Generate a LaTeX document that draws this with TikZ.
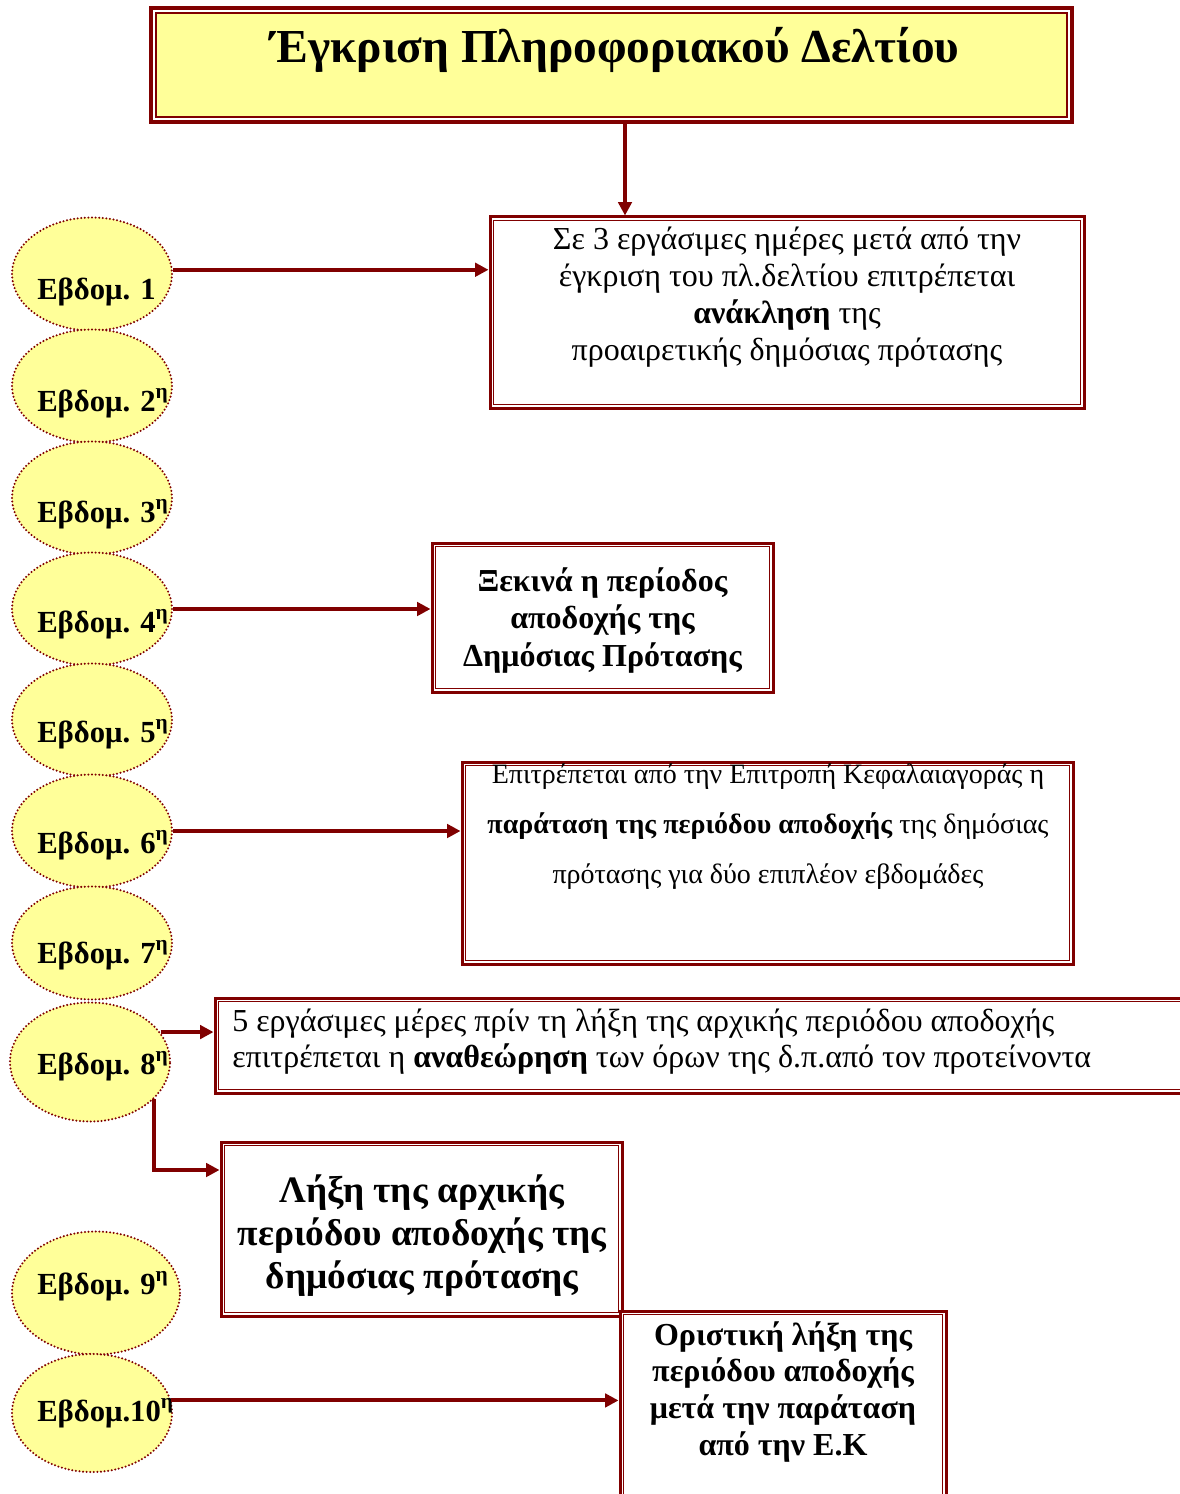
\documentclass[tikz,border=0pt]{standalone}
\usepackage{fontspec}
\setmainfont{Liberation Serif}
\usetikzlibrary{arrows.meta,shapes.geometric,calc}
\definecolor{dred}{RGB}{128,0,0}
\definecolor{ylw}{RGB}{255,255,153}
\tikzset{
  wk/.style={ellipse, draw=dred, fill=ylw, line width=1.7pt, dash pattern=on 0pt off 2.7pt, line cap=round, inner sep=0, minimum width=120pt, minimum height=84.75pt},
  wklab/.style={anchor=base west, inner sep=0, font=\fontsize{23}{28}\selectfont\bfseries},
  box/.style={draw=dred, line width=2.25pt, fill=white, inner sep=0},
  innerline/.style={draw=dred, line width=0.75pt},
  arr/.style={draw=dred, line width=3pt, -{Triangle[length=10pt,width=10pt]}},
  txt/.style={inner sep=0, align=center, anchor=base},
}
\begin{document}
\begin{tikzpicture}[x=0.75pt,y=-0.75pt]
\useasboundingbox (0,0) rectangle (1180,1494);
\clip (0,0) rectangle (1180,1494);
\fill[white] (0,0) rectangle (1180,1494);

% title
\node[box, line width=3pt, minimum width=690.75pt, minimum height=85.5pt] (title) at (611.5,65) {};
\draw[dred, line width=1.5pt, fill=ylw] ([shift={(7,7)}]title.north west) rectangle ([shift={(-7,-7)}]title.south east);
\node[inner sep=0, anchor=base, font=\fontsize{35.5}{42}\selectfont\bfseries] (ttl) at (615,63) {Έγκριση Πληροφοριακού Δελτίου};

% boxes
\node[box, minimum width=445.5pt, minimum height=143.25pt] (b1) at (787,312.5) {};
\node[box, minimum width=255.75pt, minimum height=111.75pt] (b2) at (602.5,617.5) {};
\node[box, minimum width=458.25pt, minimum height=151.5pt] (b3) at (767.5,863) {};
\node[box, minimum width=738.75pt, minimum height=71.25pt] (b4) at (707.5,1045.5) {};
\node[box, minimum width=300.75pt, minimum height=130.5pt] (b5) at (421.5,1229) {};
\node[box, minimum width=244.5pt, minimum height=149.25pt] (b6) at (783,1410.5) {};
\foreach \n in {b1,b2,b3,b4,b5,b6}
  \draw[innerline] ([shift={(5,5)}]\n.north west) rectangle ([shift={(-5,-5)}]\n.south east);

% box texts (anchor base = baseline of last line)
\node[txt, font=\fontsize{24}{27.75}\selectfont] (t1) at (787,360) {Σε 3 εργάσιμες ημέρες μετά από την\\έγκριση του πλ.δελτίου επιτρέπεται\\\textbf{ανάκληση} της\\προαιρετικής δημόσιας πρότασης};
\node[txt, font=\fontsize{24}{28.1}\selectfont\bfseries] (t2) at (602.5,666) {Ξεκινά η περίοδος\\αποδοχής της\\Δημόσιας Πρότασης};
\node[txt, font=\fontsize{21}{37.5}\selectfont] (t3) at (768,883) {Επιτρέπεται από την Επιτροπή Κεφαλαιαγοράς η\\\textbf{παράταση της περιόδου αποδοχής} της δημόσιας\\πρότασης για δύο επιπλέον εβδομάδες};
\node[txt, align=left, anchor=base west, font=\fontsize{24}{27}\selectfont] (t4) at (232,1067) {5 εργάσιμες μέρες πρίν τη λήξη της αρχικής περιόδου αποδοχής\\επιτρέπεται η \textbf{αναθεώρηση} των όρων της δ.π.από τον προτείνοντα};
\node[txt, font=\fontsize{28}{32.25}\selectfont\bfseries] (t5) at (422,1288) {Λήξη της αρχικής\\περιόδου αποδοχής της\\δημόσιας πρότασης};
\node[txt, font=\fontsize{24}{27.4}\selectfont\bfseries] (t6) at (783,1455) {Οριστική λήξη της\\περιόδου αποδοχής\\μετά την παράταση\\από την Ε.Κ};

% week ellipses
\node[wk] (e1) at (92,274) {};
\node[wk] (e2) at (92,386) {};
\node[wk] (e3) at (92,498) {};
\node[wk] (e4) at (92,609) {};
\node[wk] (e5) at (92,720) {};
\node[wk] (e6) at (92,831) {};
\node[wk] (e7) at (92,943) {};
\node[wk, minimum height=89.25pt] (e8) at (90,1062) {};
\node[wk, minimum width=126pt, minimum height=92.25pt] (e9) at (96,1293) {};
\node[wk, minimum height=88.5pt] (e10) at (92,1413) {};

\node[wklab] (l1) at (37,300) {Εβδομ. 1};
\node[wklab] (l2) at (37,411) {Εβδομ. 2\textsuperscript{η}};
\node[wklab] (l3) at (37,522) {Εβδομ. 3\textsuperscript{η}};
\node[wklab] (l4) at (37,632) {Εβδομ. 4\textsuperscript{η}};
\node[wklab] (l5) at (37,742) {Εβδομ. 5\textsuperscript{η}};
\node[wklab] (l6) at (37,853) {Εβδομ. 6\textsuperscript{η}};
\node[wklab] (l7) at (37,963) {Εβδομ. 7\textsuperscript{η}};
\node[wklab] (l8) at (37,1074) {Εβδομ. 8\textsuperscript{η}};
\node[wklab] (l9) at (37,1294) {Εβδομ. 9\textsuperscript{η}};
\node[wklab] (l10) at (37,1421) {Εβδομ.10\textsuperscript{η}};

% connectors
\coordinate (ax) at (625,0);
\coordinate (ky) at (0,1170);
\draw[arr] (title.south -| ax) -- (b1.north -| ax);
\draw[arr] (e1.3) -- (e1.3 -| b1.west);
\draw[arr] (e4.east) -- (e4.east -| b2.west);
\draw[arr] (e6.east) -- (e6.east -| b3.west);
\draw[arr] (e8.23) -- (e8.23 -| b4.west);
\draw[arr] (e8.-30) |- (ky -| b5.west);
\draw[arr] (e10.9) -- (e10.9 -| b6.west);
\end{tikzpicture}
\end{document}
